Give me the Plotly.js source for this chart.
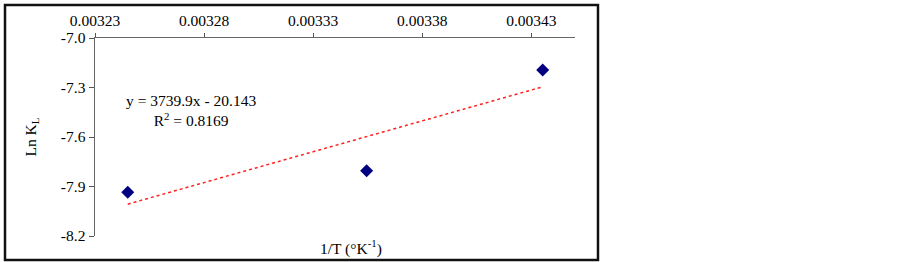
<!DOCTYPE html>
<html>
<head>
<meta charset="utf-8">
<script src="https://cdn.plot.ly/plotly-3.0.1.min.js"></script>
<style>
html,body{margin:0;padding:0;background:#fff;}
#chart{width:903px;height:262px;}
</style>
</head>
<body>
<div id="chart"></div>
<script>
// Data
const invT = [0.003245, 0.0033545, 0.0034352];   // 1/T (K^-1)
const lnKL = [-7.935, -7.804, -7.194];           // Ln K_L
const xTickVals = [0.00323, 0.00328, 0.00333, 0.00338, 0.00343];
const xTickText = ["0.00323", "0.00328", "0.00333", "0.00338", "0.00343"];
const yTickVals = [-7.0, -7.3, -7.6, -7.9, -8.2];
const yTickText = ["-7.0", "-7.3", "-7.6", "-7.9", "-8.2"];
const fitSlope = 3739.9;
const fitIntercept = -20.143;
const fitR2 = 0.8169;

const fitX = [Math.min(...invT), Math.max(...invT)];
const fitY = fitX.map(v => fitSlope * v + fitIntercept);

const font = {family: '"Liberation Serif", "Times New Roman", serif', size: 15.5, color: '#000'};

const traces = [
  {
    x: invT, y: lnKL, type: 'scatter', mode: 'markers',
    marker: {symbol: 'diamond', size: 10, color: '#000080'},
    hoverinfo: 'skip', showlegend: false
  },
  {
    x: fitX, y: fitY, type: 'scatter', mode: 'lines',
    line: {color: '#ff2020', width: 1.5, dash: 'dot'},
    hoverinfo: 'skip', showlegend: false
  }
];

const layout = {
  width: 903, height: 262,
  margin: {l: 95, r: 328, t: 38, b: 26, pad: 0},
  paper_bgcolor: '#fff', plot_bgcolor: '#fff',
  font: font,
  showlegend: false,
  xaxis: {
    side: 'top', range: [0.00323, 0.00345],
    tickmode: 'array', tickvals: xTickVals, ticktext: xTickText,
    ticks: 'outside', ticklen: 4, tickcolor: '#555', tickwidth: 1,
    showline: true, linecolor: '#666', linewidth: 1.5,
    showgrid: false, zeroline: false, tickfont: font
  },
  yaxis: {
    range: [-8.2, -7.0],
    tickmode: 'array', tickvals: yTickVals, ticktext: yTickText,
    ticks: 'outside', ticklen: 5, tickcolor: '#555', tickwidth: 1,
    showline: true, linecolor: '#666', linewidth: 1.5,
    showgrid: false, zeroline: false, tickfont: font,
    title: {text: 'Ln K<sub>L</sub>', font: font, standoff: 20}
  },
  annotations: [
    {
      xref: 'paper', yref: 'paper', x: 0.2, y: 0.636,
      xanchor: 'center', yanchor: 'middle', showarrow: false, align: 'center',
      text: 'y = ' + fitSlope.toFixed(1) + 'x - ' + Math.abs(fitIntercept).toFixed(3) +
            '<br>R<sup>2</sup> = ' + fitR2.toFixed(4),
      font: font
    },
    {
      xref: 'paper', yref: 'paper', x: 0.533, y: -0.0606,
      xanchor: 'center', yanchor: 'middle', showarrow: false,
      text: '1/T (°K<sup>-1</sup>)', font: font
    }
  ],
  shapes: [
    {
      type: 'rect', xref: 'paper', yref: 'paper',
      x0: -0.1875, x1: 1.0479, y0: -0.1212, y1: 1.1667,
      line: {color: '#111', width: 2.5}, fillcolor: 'rgba(0,0,0,0)', layer: 'above'
    }
  ]
};

Plotly.newPlot('chart', traces, layout, {staticPlot: true, displayModeBar: false});
</script>
</body>
</html>
